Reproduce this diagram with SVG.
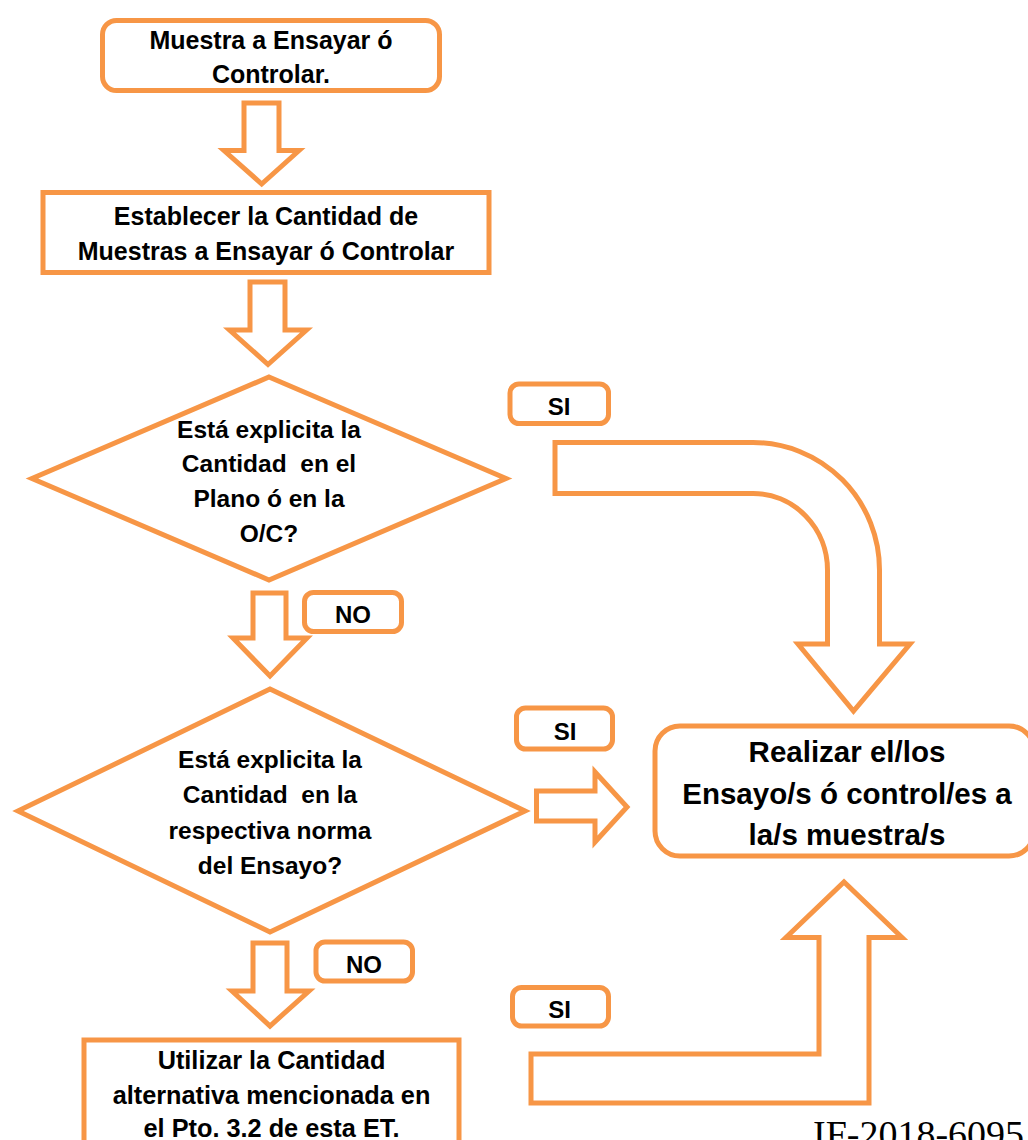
<svg xmlns="http://www.w3.org/2000/svg" width="1028" height="1140" viewBox="0 0 1028 1140">
<style>
.shape{fill:#fff;stroke:#F79646;stroke-width:5;stroke-linejoin:miter;stroke-miterlimit:10}
.arrow{fill:#fff;stroke:#F79646;stroke-width:5;stroke-linejoin:miter;stroke-miterlimit:10}
.t{font-family:"Liberation Sans",Arial,sans-serif;font-weight:bold;fill:#000;text-anchor:middle;font-size:24.5px}
.m{font-size:25px}
.big{font-size:29.5px}
.lbl{font-size:24px}
.ref{font-family:"Liberation Serif","Times New Roman",serif;font-size:38px;fill:#000}
</style>
<rect width="1028" height="1140" fill="#fff"/>

<g id="connectors">
  <path class="arrow" d="M244 103 L279 103 L279 150.5 L299 150.5 L261.7 184 L224 150.5 L244 150.5 Z"/>
  <path class="arrow" d="M250 282 L285 282 L285 330 L306.5 330 L268 364.5 L229.5 330 L250 330 Z"/>
  <path class="arrow" d="M253 593 L286 593 L286 638 L307 638 L270 676 L233 638 L253 638 Z"/>
  <path class="arrow" d="M253 943 L287 943 L287 991 L309 991 L270 1026 L232 991 L253 991 Z"/>
  <path class="arrow" d="M555 442.5 L753 442.5 A126.5 127.5 0 0 1 879.5 570 L879.5 644 L910 644 L853.5 711 L798 644 L827.5 644 L827.5 570 A74.5 76.5 0 0 0 753 493.5 L555 493.5 Z"/>
  <path class="arrow" d="M536.5 791 L595 791 L595 772 L627 807 L595 842 L595 821 L536.5 821 Z"/>
  <path class="arrow" d="M531 1054 L819 1054 L819 937.5 L786 937.5 L844 882 L902 937.5 L869 937.5 L869 1103 L531 1103 Z"/>
</g>

<g id="start">
  <rect class="shape" x="102.5" y="20.5" width="337" height="70" rx="14"/>
  <text class="t m" x="271" y="49">Muestra a Ensayar ó</text>
  <text class="t m" x="271" y="83">Controlar.</text>
</g>

<g id="establecer">
  <rect class="shape" x="43" y="192.5" width="446" height="80"/>
  <text class="t m" x="266" y="225">Establecer la Cantidad de</text>
  <text class="t m" x="266" y="260">Muestras a Ensayar ó Controlar</text>
</g>

<g id="decision1">
  <polygon class="shape" points="269,377 506,478.5 269,580 32,478.5"/>
  <text class="t" x="269" y="437.5">Está explicita la</text>
  <text class="t" x="269" y="472" xml:space="preserve">Cantidad  en el</text>
  <text class="t" x="269" y="507">Plano ó en la</text>
  <text class="t" x="269" y="541.5">O/C?</text>
</g>

<g id="decision2">
  <polygon class="shape" points="270,689 525,811 270,932 18,811"/>
  <text class="t" x="270" y="767.5">Está explicita la</text>
  <text class="t" x="270" y="803" xml:space="preserve">Cantidad  en la</text>
  <text class="t" x="270" y="838.5">respectiva norma</text>
  <text class="t" x="270" y="873.5">del Ensayo?</text>
</g>

<g id="realizar">
  <rect class="shape" x="655" y="726" width="379" height="130" rx="25"/>
  <text class="t big" x="847" y="762">Realizar el/los</text>
  <text class="t big" x="847" y="803.5">Ensayo/s ó control/es a</text>
  <text class="t big" x="847" y="845">la/s muestra/s</text>
</g>

<g id="utilizar">
  <rect class="shape" x="84" y="1040" width="375" height="140"/>
  <text class="t m" x="271.5" y="1068.5" style="font-size:25.3px">Utilizar la Cantidad</text>
  <text class="t m" x="271.5" y="1103.5" style="font-size:25.3px">alternativa mencionada en</text>
  <text class="t m" x="271.5" y="1137" style="font-size:25.3px">el Pto. 3.2 de esta ET.</text>
</g>

<g id="label-si-1">
  <rect class="shape" x="510" y="384" width="98.5" height="39.5" rx="9"/>
  <text class="t lbl" x="559" y="415">SI</text>
</g>
<g id="label-no-1">
  <rect class="shape" x="304.5" y="592.5" width="97" height="39" rx="9"/>
  <text class="t lbl" x="353" y="623">NO</text>
</g>
<g id="label-si-2">
  <rect class="shape" x="516.5" y="708" width="96" height="41" rx="9"/>
  <text class="t lbl" x="565" y="740">SI</text>
</g>
<g id="label-no-2">
  <rect class="shape" x="316" y="942" width="96.5" height="39" rx="9"/>
  <text class="t lbl" x="364" y="973">NO</text>
</g>
<g id="label-si-3">
  <rect class="shape" x="512.5" y="987.5" width="96" height="38.5" rx="9"/>
  <text class="t lbl" x="559.5" y="1018">SI</text>
</g>

<text class="ref" x="813" y="1147">IF-2018-6095</text>
</svg>
